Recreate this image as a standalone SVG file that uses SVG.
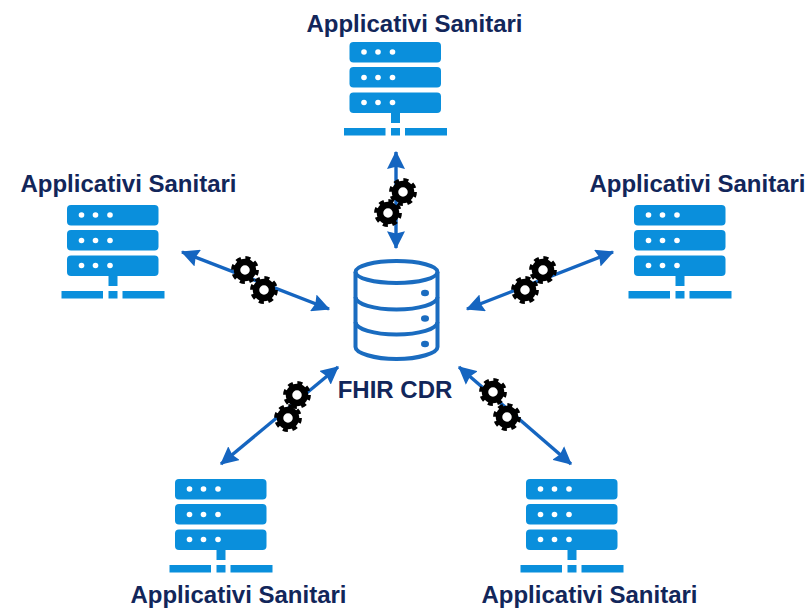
<svg xmlns="http://www.w3.org/2000/svg" xmlns:xlink="http://www.w3.org/1999/xlink" width="812" height="608" viewBox="0 0 812 608">
<style>
.lbl{font-family:"Liberation Sans",Arial,sans-serif;font-weight:700;font-size:24px;fill:#12265a;text-anchor:middle}
.srv{fill:#0a8fdc}
.dot{fill:#fff}
.arr{stroke:#1565c0;stroke-width:3.4;fill:none;marker-start:url(#ah);marker-end:url(#ah)}
.db{fill:none;stroke:#1a6cc0;stroke-width:4}
.dbd{fill:#1a6cc0}
</style>
<defs>
<marker id="ah" viewBox="0 0 16 16" refX="15" refY="8" markerUnits="userSpaceOnUse" markerWidth="18" markerHeight="18" orient="auto-start-reverse">
<path d="M0 0 L16 8 L0 16 L2 8 Z" fill="#1565c0"/>
</marker>
<g id="server">
<rect class="srv" x="349.500" y="42" width="91.500" height="20.500" rx="4"/>
<rect class="srv" x="349.500" y="67" width="91.500" height="20.500" rx="4"/>
<rect class="srv" x="349.500" y="92.500" width="91.500" height="20.500" rx="4"/>
<g class="dot">
<circle cx="364" cy="52" r="2.800"/><circle cx="378" cy="52" r="2.800"/><circle cx="392.500" cy="52" r="2.800"/>
<circle cx="364" cy="77.500" r="2.800"/><circle cx="378" cy="77.500" r="2.800"/><circle cx="392.500" cy="77.500" r="2.800"/>
<circle cx="364" cy="102.500" r="2.800"/><circle cx="378" cy="102.500" r="2.800"/><circle cx="392.500" cy="102.500" r="2.800"/>
</g>
<rect class="srv" x="391" y="113" width="9" height="10"/>
<rect class="srv" x="344" y="128" width="41.500" height="7.500"/>
<rect class="srv" x="391" y="128" width="9" height="7.500"/>
<rect class="srv" x="405" y="128" width="42" height="7.500"/>
</g>
<g id="gear">
<circle r="8" fill="#fff" stroke="#000" stroke-width="6.500"/>
<circle r="12" fill="none" stroke="#000" stroke-width="3.800" stroke-dasharray="5 4.425"/>
</g>
</defs>
<rect width="812" height="608" fill="#fff"/>
<g id="connectors">
<path class="arr" d="M396 152 L396 248"/>
<path class="arr" d="M182 252 L329 309"/>
<path class="arr" d="M613 252 L467 309"/>
<path class="arr" d="M221 464 L338 367"/>
<path class="arr" d="M571 464 L459 367"/>
<use xlink:href="#gear" href="#gear" x="403" y="192"/>
<use xlink:href="#gear" href="#gear" x="388" y="213"/>
<use xlink:href="#gear" href="#gear" x="245" y="270"/>
<use xlink:href="#gear" href="#gear" x="264" y="290"/>
<use xlink:href="#gear" href="#gear" x="543" y="270"/>
<use xlink:href="#gear" href="#gear" x="525" y="290"/>
<use xlink:href="#gear" href="#gear" x="297" y="395"/>
<use xlink:href="#gear" href="#gear" x="288" y="418"/>
<use xlink:href="#gear" href="#gear" x="493" y="392"/>
<use xlink:href="#gear" href="#gear" x="507" y="417"/>
</g>
<g id="node-top">
<text class="lbl" x="414.500" y="32">Applicativi Sanitari</text>
<use xlink:href="#server" href="#server"/>
</g>
<g id="node-left">
<text class="lbl" x="128.500" y="192">Applicativi Sanitari</text>
<use xlink:href="#server" href="#server" x="-282.500" y="163"/>
</g>
<g id="node-right">
<text class="lbl" x="697.500" y="192">Applicativi Sanitari</text>
<use xlink:href="#server" href="#server" x="284.500" y="163"/>
</g>
<g id="node-bottom-left">
<text class="lbl" x="238.500" y="603">Applicativi Sanitari</text>
<use xlink:href="#server" href="#server" x="-174.500" y="437"/>
</g>
<g id="node-bottom-right">
<text class="lbl" x="589.500" y="603">Applicativi Sanitari</text>
<use xlink:href="#server" href="#server" x="176.500" y="437"/>
</g>
<g id="node-cdr">
<ellipse class="db" cx="396.500" cy="272" rx="41" ry="11"/>
<path class="db" d="M355.500 272 V347 C355.500 353 374 359 396.500 359 C419 359 437.500 353 437.500 347 V272"/>
<path class="db" d="M355.500 297 C355.500 304 374 309.500 396.500 309.500 C419 309.500 437.500 304 437.500 297"/>
<path class="db" d="M355.500 322 C355.500 329 374 334.500 396.500 334.500 C419 334.500 437.500 329 437.500 322"/>
<ellipse class="dbd" cx="425" cy="293" rx="4" ry="3.200"/>
<ellipse class="dbd" cx="425" cy="318.500" rx="4" ry="3.200"/>
<ellipse class="dbd" cx="425" cy="344" rx="4" ry="3.200"/>
<text class="lbl" x="395" y="398">FHIR CDR</text>
</g>
</svg>
